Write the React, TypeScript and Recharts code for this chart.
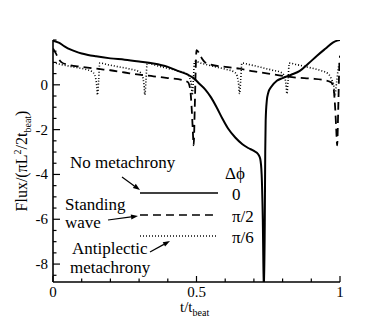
import React from 'react';
import { LineChart, Line, XAxis, YAxis, ReferenceLine } from 'recharts';

// Δφ = 0 (solid)
const solidT = [0, 0.02, 0.04, 0.06, 0.08, 0.1, 0.15, 0.2, 0.25, 0.3, 0.35, 0.4, 0.44, 0.47, 0.49, 0.51, 0.53, 0.55, 0.57, 0.59, 0.61, 0.635, 0.66, 0.68, 0.7, 0.715, 0.722, 0.727, 0.731, 0.735, 0.738, 0.7395, 0.741, 0.745, 0.75, 0.76, 0.78, 0.8, 0.83, 0.86, 0.89, 0.92, 0.95, 0.975, 0.99, 1.0];
const solidV = [1.97, 1.88, 1.72, 1.58, 1.48, 1.4, 1.27, 1.18, 1.12, 1.04, 0.95, 0.8, 0.6, 0.45, 0.3, 0.05, -0.2, -0.55, -1.0, -1.5, -1.95, -2.35, -2.65, -2.82, -2.95, -3.1, -3.3, -4.0, -6.0, -9.5, -6.0, -3.0, -1.6, -0.7, -0.35, -0.1, 0.18, 0.3, 0.45, 0.62, 0.95, 1.3, 1.62, 1.88, 1.97, 2.0];

// Δφ = π/2 (dashed)
const dashT = [0, 0.01, 0.02, 0.03, 0.05, 0.1, 0.15, 0.2, 0.25, 0.3, 0.35, 0.4, 0.45, 0.47, 0.478, 0.483, 0.487, 0.49, 0.494, 0.497, 0.5, 0.51, 0.52, 0.53, 0.55, 0.6, 0.65, 0.7, 0.75, 0.8, 0.85, 0.9, 0.95, 0.97, 0.978, 0.983, 0.987, 0.99, 0.994, 0.997, 1.0];
const dashV = [1.62, 1.4, 1.15, 1.0, 0.9, 0.8, 0.72, 0.65, 0.55, 0.45, 0.38, 0.3, 0.22, 0.12, -0.2, -1.0, -2.0, -2.7, -1.0, 0.6, 1.55, 1.4, 1.15, 1.0, 0.9, 0.8, 0.72, 0.6, 0.5, 0.4, 0.32, 0.28, 0.2, 0.1, -0.2, -1.0, -2.0, -2.7, -1.0, 0.6, 1.3];

// Δφ = π/6 (dotted)
const dotT = [0, 0.03, 0.07, 0.11, 0.135, 0.145, 0.152, 0.155, 0.159, 0.163, 0.19, 0.23, 0.27, 0.3, 0.31, 0.317, 0.32, 0.324, 0.328, 0.355, 0.395, 0.435, 0.465, 0.475, 0.482, 0.485, 0.489, 0.493, 0.52, 0.56, 0.6, 0.63, 0.64, 0.647, 0.65, 0.654, 0.658, 0.685, 0.725, 0.765, 0.795, 0.805, 0.812, 0.815, 0.819, 0.823, 0.85, 0.89, 0.93, 0.96, 0.972, 0.978, 0.982, 0.988, 0.995, 1.0];
const dotV = [1.0, 0.9, 0.8, 0.7, 0.6, 0.45, 0.0, -0.45, 0.2, 0.97, 0.9, 0.8, 0.7, 0.58, 0.45, 0.0, -0.45, 0.2, 0.97, 0.88, 0.75, 0.62, 0.5, 0.35, 0.0, -0.45, 0.2, 1.05, 0.95, 0.82, 0.7, 0.58, 0.45, 0.0, -0.4, 0.2, 0.97, 0.9, 0.78, 0.65, 0.55, 0.42, 0.0, -0.4, 0.2, 0.97, 0.9, 0.78, 0.65, 0.48, 0.2, 0.0, -0.5, 0.1, 0.8, 1.0];

const xTicks = [0, 0.1, 0.2, 0.3, 0.4, 0.5, 0.6, 0.7, 0.8, 0.9, 1];
const xMajor = [0, 0.5, 1];
const yTicks = [2, 1.5, 1, 0.5, 0, -0.5, -1, -1.5, -2, -2.5, -3, -3.5, -4, -4.5, -5, -5.5, -6, -6.5, -7, -7.5, -8, -8.5];
const yMajor = [0, -2, -4, -6, -8];

// legend line levels and labels (data coords)
const legendX = [0.303, 0.575];
const legendY = [-4.83, -5.81, -6.75];
const legendLabels = ['0', 'π/2', 'π/6'];

const solidData = solidT.map((t, i) => ({ t, v: solidV[i] }));
const dashData = dashT.map((t, i) => ({ t, v: dashV[i] }));
const dotData = dotT.map((t, i) => ({ t, v: dotV[i] }));

const FONT = "'Liberation Serif', 'Times New Roman', serif";
const fs = (size: number): React.CSSProperties => ({ fontFamily: FONT, fontSize: size });

const XTick = (props: any) => {
  const { x, y, payload } = props;
  const major = xMajor.includes(payload.value);
  return (
    <g>
      <line x1={x} y1={y} x2={x} y2={y - (major ? 6 : 3.5)} stroke="#000" strokeWidth={1.2} />
      {major && (
        <text x={x} y={y + 15} textAnchor="middle" style={fs(15)} fill="#000">
          {String(payload.value)}
        </text>
      )}
    </g>
  );
};

const YTick = (props: any) => {
  const { x, y, payload } = props;
  const major = yMajor.includes(payload.value);
  return (
    <g>
      <line x1={x} y1={y} x2={x + (major ? 7 : 3.5)} y2={y} stroke="#000" strokeWidth={1.2} />
      {major && (
        <text x={x - 5} y={y + 5} textAnchor="end" style={fs(15)} fill="#000">
          {String(payload.value)}
        </text>
      )}
    </g>
  );
};

const Arrow = ({ x1, y1, x2, y2 }: { x1: number; y1: number; x2: number; y2: number }) => {
  const ang = Math.atan2(y2 - y1, x2 - x1);
  const L = 7;
  const W = 2.5;
  const bx = x2 - L * Math.cos(ang);
  const by = y2 - L * Math.sin(ang);
  const px = -Math.sin(ang) * W;
  const py = Math.cos(ang) * W;
  return (
    <g>
      <line x1={x1} y1={y1} x2={bx} y2={by} stroke="#000" strokeWidth={1.2} />
      <polygon points={`${x2},${y2} ${bx + px},${by + py} ${bx - px},${by - py}`} fill="#000" />
    </g>
  );
};

export default function App() {
  return (
    <div style={{ position: 'absolute', left: 0, top: 0, width: 382, height: 319, background: '#fff' }}>
      <LineChart width={382} height={319} margin={{ top: 40, right: 42, bottom: 0, left: 0 }}>
        <XAxis
          dataKey="t"
          type="number"
          domain={[0, 1]}
          ticks={xTicks}
          tick={<XTick />}
          tickLine={false}
          tickSize={0}
          tickMargin={0}
          height={37}
          axisLine={{ stroke: '#000', strokeWidth: 1.6 }}
          interval={0}
          allowDataOverflow
        />
        <YAxis
          type="number"
          domain={[-8.8, 2]}
          ticks={yTicks}
          tick={<YTick />}
          tickLine={false}
          tickSize={0}
          tickMargin={0}
          width={53}
          axisLine={{ stroke: '#000', strokeWidth: 1.6 }}
          interval={0}
          allowDataOverflow
        />
        <Line data={dotData} dataKey="v" type="monotone" stroke="#000" strokeWidth={1.6} strokeDasharray="1 2" dot={false} isAnimationActive={false} />
        <Line data={dashData} dataKey="v" type="monotone" stroke="#000" strokeWidth={1.8} strokeDasharray="8 5" dot={false} isAnimationActive={false} />
        <Line data={solidData} dataKey="v" type="monotone" stroke="#000" strokeWidth={2} dot={false} isAnimationActive={false} />
        <ReferenceLine segment={[{ x: legendX[0], y: legendY[0] }, { x: legendX[1], y: legendY[0] }]} stroke="#000" strokeWidth={1.6} ifOverflow="visible" />
        <ReferenceLine segment={[{ x: legendX[0], y: legendY[1] }, { x: legendX[1], y: legendY[1] }]} stroke="#000" strokeWidth={1.6} strokeDasharray="8 5" ifOverflow="visible" />
        <ReferenceLine segment={[{ x: legendX[0], y: legendY[2] }, { x: legendX[1], y: legendY[2] }]} stroke="#000" strokeWidth={1.4} strokeDasharray="1 2" ifOverflow="visible" />
        <g fill="#000">
          <text x={70} y={168} style={fs(17)}>No metachrony</text>
          <text x={65} y={210} style={fs(17)}>Standing</text>
          <text x={65} y={228} style={fs(17)}>wave</text>
          <text x={72} y={254} style={fs(17)}>Antiplectic</text>
          <text x={70} y={273} style={fs(17)}>metachrony</text>
          <text x={225} y={179} style={fs(17)}>Δϕ</text>
          <text x={232} y={200} style={fs(17)}>{legendLabels[0]}</text>
          <text x={232} y={222} style={fs(17)}>{legendLabels[1]}</text>
          <text x={232} y={243} style={fs(17)}>{legendLabels[2]}</text>
          <text x={180} y={312} style={fs(15)}>
            t/t<tspan style={fs(10)} dy={4}>beat</tspan>
          </text>
          <text transform="translate(27,161) rotate(-90)" textAnchor="middle" style={fs(16)}>
            Flux/(πL<tspan style={fs(10)} dy={-6}>2</tspan>
            <tspan dy={6}>/2t</tspan>
            <tspan style={fs(10)} dy={4}>beat</tspan>
            <tspan dy={-4}>)</tspan>
          </text>
        </g>
        <Arrow x1={122} y1={177} x2={140} y2={190} />
        <Arrow x1={108} y1={220} x2={138} y2={216} />
        <Arrow x1={150} y1={252} x2={170} y2={241} />
      </LineChart>
    </div>
  );
}
